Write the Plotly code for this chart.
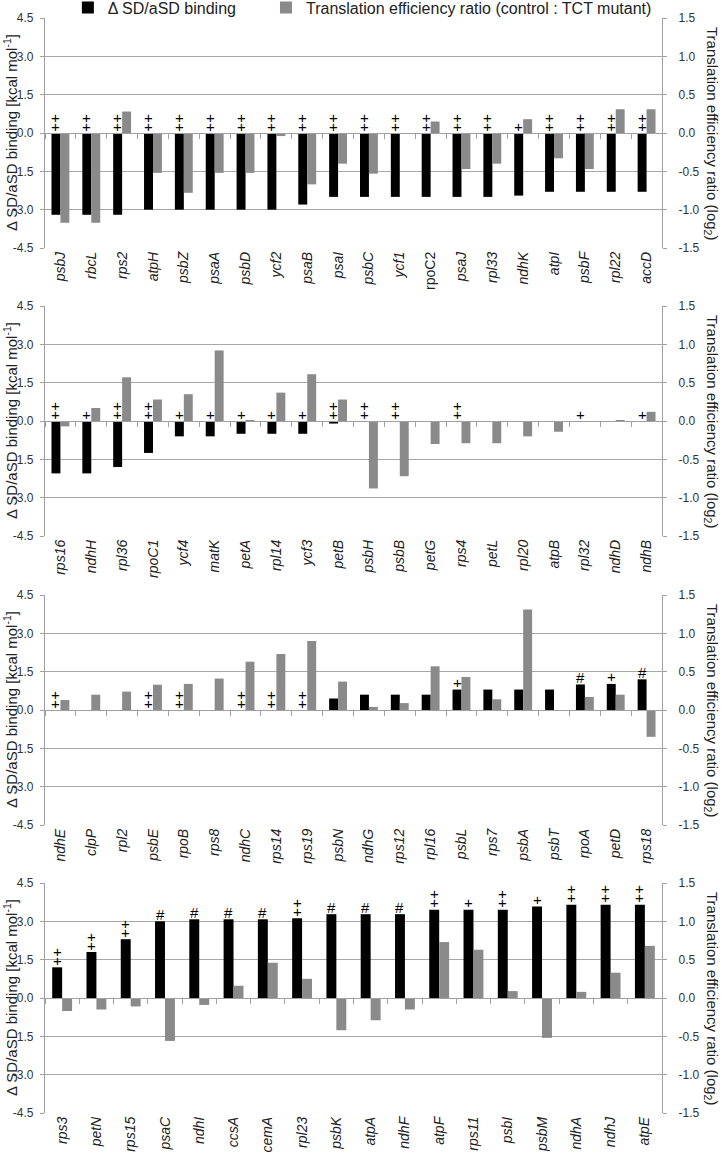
import plotly.graph_objects as go

# panel 1
genes1 = ['psbJ', 'rbcL', 'rps2', 'atpH', 'psbZ', 'psaA', 'psbD', 'ycf2', 'psaB', 'psaI',
          'psbC', 'ycf1', 'rpoC2', 'psaJ', 'rpl33', 'ndhK', 'atpI', 'psbF', 'rpl22', 'accD']
sd1 = [-3.2, -3.2, -3.2, -3.0, -3.0, -3.0, -3.0, -3.0, -2.8, -2.5,
       -2.5, -2.5, -2.5, -2.5, -2.5, -2.45, -2.3, -2.3, -2.3, -2.3]
te1 = [-1.17, -1.17, 0.28, -0.52, -0.78, -0.52, -0.52, -0.04, -0.67, -0.40,
       -0.53, 0.0, 0.15, -0.47, -0.40, 0.18, -0.33, -0.47, 0.31, 0.31]
marks1 = ['++', '++', '++', '++', '++', '++', '++', '++', '++', '++',
          '++', '++', '++', '++', '++', '+', '++', '++', '++', '++']

# panel 2
genes2 = ['rps16', 'ndhH', 'rpl36', 'rpoC1', 'ycf4', 'matK', 'petA', 'rpl14', 'ycf3', 'petB',
          'psbH', 'psbB', 'petG', 'rps4', 'petL', 'rpl20', 'atpB', 'rpl32', 'ndhD', 'ndhB']
sd2 = [-2.05, -2.05, -1.8, -1.25, -0.6, -0.6, -0.5, -0.5, -0.5, -0.1,
       0, 0, 0, 0, 0, 0, 0, 0, 0, 0]
te2 = [-0.07, 0.17, 0.57, 0.28, 0.35, 0.92, 0.01, 0.37, 0.61, 0.28,
       -0.88, -0.72, -0.30, -0.29, -0.29, -0.20, -0.14, -0.01, 0.01, 0.12]
marks2 = ['++', '+', '++', '++', '+', '+', '+', '+', '+', '++',
          '++', '++', '', '++', '', '', '', '+', '', '+']

# panel 3
genes3 = ['ndhE', 'clpP', 'rpl2', 'psbE', 'rpoB', 'rps8', 'ndhC', 'rps14', 'rps19', 'psbN',
          'ndhG', 'rps12', 'rpl16', 'psbL', 'rps7', 'psbA', 'psbT', 'rpoA', 'petD', 'rps18']
sd3 = [0, 0, 0, 0, 0, 0, 0, 0, 0, 0.45,
       0.6, 0.6, 0.6, 0.8, 0.8, 0.8, 0.8, 1.0, 1.02, 1.2]
te3 = [0.13, 0.2, 0.24, 0.33, 0.34, 0.41, 0.63, 0.73, 0.9, 0.37,
       0.04, 0.09, 0.57, 0.43, 0.14, 1.31, 0.0, 0.17, 0.2, -0.35]
marks3 = ['++', '', '', '++', '++', '', '++', '++', '++', '',
          '', '', '', '+', '', '', '', '#', '+', '#']

# panel 4
genes4 = ['rps3', 'petN', 'rps15', 'psaC', 'ndhI', 'ccsA', 'cemA', 'rpl23', 'psbK', 'atpA',
          'ndhF', 'atpF', 'rps11', 'psbI', 'psbM', 'ndhA', 'ndhJ', 'atpE']
sd4 = [1.2, 1.8, 2.3, 3.0, 3.08, 3.08, 3.08, 3.12, 3.28, 3.28,
       3.28, 3.45, 3.45, 3.45, 3.58, 3.65, 3.65, 3.65]
te4 = [-0.17, -0.15, -0.11, -0.56, -0.09, 0.16, 0.46, 0.25, -0.42, -0.29,
       -0.15, 0.73, 0.63, 0.09, -0.52, 0.08, 0.33, 0.68]
marks4 = ['++', '++', '++', '#', '#', '#', '#', '++', '#', '#',
          '#', '++', '+', '++', '+', '++', '++', '++']

upright = ['rpoC2']  # not set in italics in the original

left_ticks = [-4.5, -3.0, -1.5, 0.0, 1.5, 3.0, 4.5]
right_ticks = [-1.5, -1.0, -0.5, 0.0, 0.5, 1.0, 1.5]

panels = [(genes1, sd1, te1, marks1), (genes2, sd2, te2, marks2),
          (genes3, sd3, te3, marks3), (genes4, sd4, te4, marks4)]

FONT = 'Liberation Sans, Arial, sans-serif'
GRAY = '#8a8a8a'
LINE = '#a0a0a0'
BW = 0.29
W, H = 722, 1163
XD = [45 / W, 662 / W]
tops = [18, 306, 595, 883]
PH = 230

fig = go.Figure()
annotations = []
layout = {}

for p, (genes, sd, te, marks) in enumerate(panels):
    n = p + 1
    xa = 'x' if n == 1 else f'x{n}'
    yl = 'y' if n == 1 else f'y{2 * n - 1}'
    yr = f'y{2 * n}'
    xz = f'x{n + 4}'
    dom = [1 - (tops[p] + PH) / H, 1 - tops[p] / H]

    fig.add_trace(go.Bar(x=genes, y=sd, xaxis=xa, yaxis=yl, width=BW, offset=-BW,
                         marker=dict(color='black', line_width=0),
                         name='Δ SD/aSD binding', showlegend=(p == 0), legend='legend'))
    fig.add_trace(go.Bar(x=genes, y=te, xaxis=xa, yaxis=yr, width=BW, offset=0,
                         marker=dict(color=GRAY, line_width=0),
                         name='Translation efficiency ratio (control : TCT mutant)',
                         showlegend=(p == 0), legend='legend2'))
    # dummy trace so the zero-line axis gets drawn
    fig.add_trace(go.Scatter(x=[None], y=[None], xaxis=xz, yaxis=yl,
                             showlegend=False, hoverinfo='skip'))

    labels = [g if g in upright else f'<i>{g}</i>' for g in genes]
    layout['xaxis' if n == 1 else f'xaxis{n}'] = dict(
        domain=XD, anchor=yl, type='category', categoryorder='array',
        categoryarray=genes, range=[-0.5, len(genes) - 0.5], automargin=False,
        tickvals=genes, ticktext=labels, tickangle=-90, ticks='',
        showline=False, showgrid=False, zeroline=False,
        tickfont=dict(size=14, color='#222'))
    layout[f'xaxis{n + 4}'] = dict(
        overlaying=xa, anchor='free', position=(dom[0] + dom[1]) / 2,
        range=[-0.5, len(genes) - 0.5], automargin=False,
        tickvals=[i - 0.5 for i in range(len(genes) + 1)],
        ticks='outside', ticklen=5, tickcolor=LINE, tickwidth=1,
        showline=True, linecolor=LINE, linewidth=1.2,
        showticklabels=False, showgrid=False, zeroline=False)
    layout['yaxis' if n == 1 else f'yaxis{2 * n - 1}'] = dict(
        domain=dom, anchor=xa, range=[-4.5, 4.5], automargin=False,
        tickvals=left_ticks, ticktext=[f'{v:.1f}' for v in left_ticks],
        ticks='outside', ticklen=4, tickcolor=LINE, ticklabelstandoff=4,
        showline=True, linecolor=LINE, linewidth=1.2,
        showgrid=True, gridcolor='#a8a8a8', gridwidth=1.2, zeroline=False,
        tickfont=dict(size=12, color='#333'))
    layout[f'yaxis{2 * n}'] = dict(
        domain=dom, anchor=xa, overlaying=yl, side='right', range=[-1.5, 1.5],
        tickvals=right_ticks, ticktext=[f'{v:.1f}' for v in right_ticks],
        ticks='outside', ticklen=4, tickcolor=LINE, ticklabelstandoff=9,
        showline=True, linecolor=LINE, linewidth=1.2, automargin=False,
        showgrid=False, zeroline=False,
        tickfont=dict(size=12, color='#333'))

    # axis titles: left reads upward, right reads downward
    annotations.append(dict(
        x=10 / W, y=(dom[0] + dom[1]) / 2, xref='paper', yref='paper',
        xanchor='center', yanchor='middle',
        text='Δ SD/aSD binding [kcal mol<sup>-1</sup>]', textangle=-90,
        showarrow=False, font=dict(size=15, color='#222')))
    annotations.append(dict(
        x=712 / W, y=(dom[0] + dom[1]) / 2, xref='paper', yref='paper',
        xanchor='center', yanchor='middle',
        text='Translation efficiency ratio (log<sub>2</sub>)', textangle=90,
        showarrow=False, font=dict(size=15, color='#222')))

    for i, (v, m) in enumerate(zip(sd, marks)):
        for k, ch in enumerate(m):
            annotations.append(dict(
                x=i - BW / 2, y=max(v, 0), xref=xa, yref=yl, text=ch,
                showarrow=False, yanchor='middle', yshift=7 + 9 * k,
                font=dict(size=15, color='black')))

legend_style = dict(orientation='h', y=1.008, xanchor='left', yanchor='top',
                    font=dict(size=16, color='#222'), bgcolor='rgba(0,0,0,0)',
                    itemclick=False)

fig.update_layout(**layout)
fig.update_layout(
    width=W, height=H,
    margin=dict(l=0, r=0, t=0, b=0, autoexpand=False),
    paper_bgcolor='white', plot_bgcolor='white',
    font=dict(family=FONT, color='#222'),
    barmode='overlay',
    annotations=annotations,
    legend=dict(x=0.094, **legend_style),
    legend2=dict(x=0.3684, **legend_style),
)

# the page body has a default 8px margin; drop it so the figure fills the window
fig.write_html('out.html', config={'displayModeBar': False},
               post_script="document.body.style.margin='0px';")
